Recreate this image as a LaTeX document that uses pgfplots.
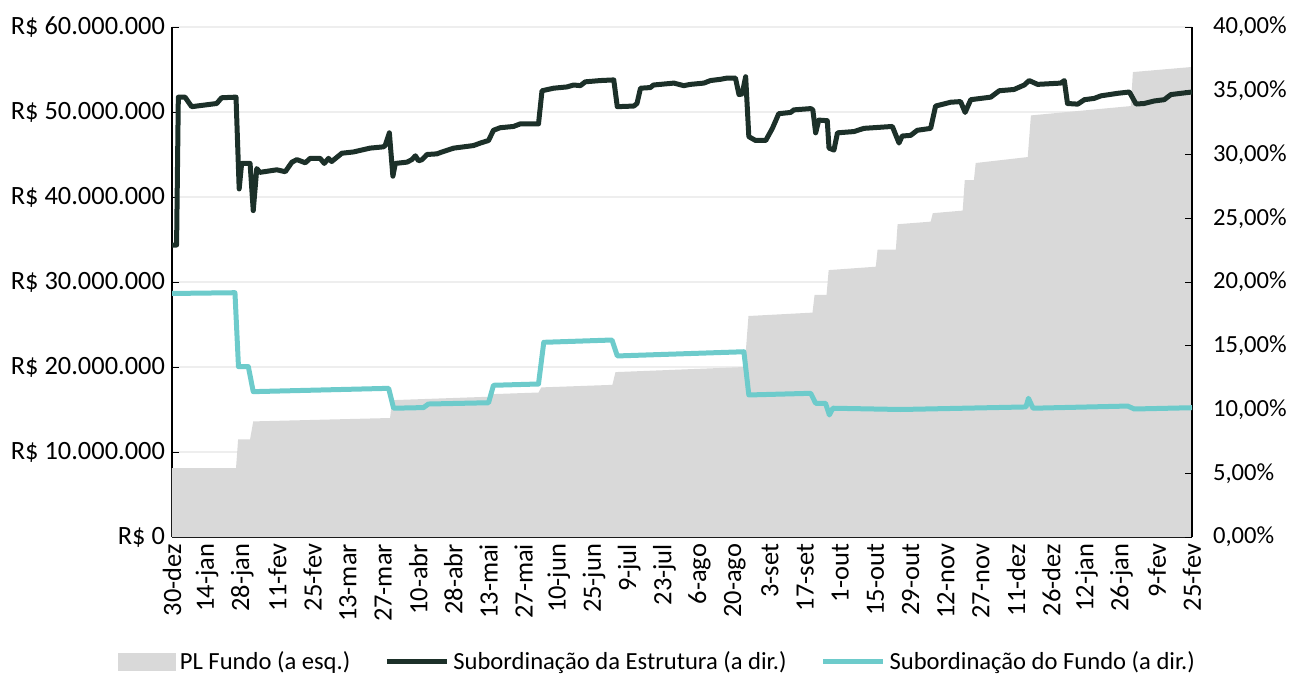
\documentclass[border=0pt]{standalone}
\usepackage{fontspec}
\setmainfont{Carlito}
\usepackage{pgfplots}
\pgfplotsset{compat=1.18}
\definecolor{plgray}{HTML}{D9D9D9}
\definecolor{estr}{HTML}{1C3029}
\definecolor{fundo}{HTML}{6DCBCB}
\definecolor{gridc}{HTML}{EEEEEE}
\begin{document}
\begin{tikzpicture}[font=\fontsize{12.3}{14}\selectfont]
\useasboundingbox (-86pt,-69pt) rectangle (559pt,268.5pt);
\begin{axis}[
 at={(0,0)}, anchor=south west,
 scale only axis, width=510pt, height=255pt,
 xmin=0, xmax=290, ymin=0, ymax=60,
 axis x line*=bottom, axis y line*=left,
 axis line style={-, black, line width=0.9pt},
 xtick={0,10,...,290},
 xticklabels={30-dez,14-jan,28-jan,11-fev,25-fev,13-mar,27-mar,10-abr,28-abr,13-mai,27-mai,10-jun,25-jun,9-jul,23-jul,6-ago,20-ago,3-set,17-set,1-out,15-out,29-out,12-nov,27-nov,11-dez,26-dez,12-jan,26-jan,9-fev,25-fev},
 xticklabel style={rotate=90, anchor=east, font=\fontsize{13.2}{15}\selectfont},
 yticklabel style={font=\fontsize{13.2}{15}\selectfont},
 minor x tick num=9,
 ytick={0,10,...,60},
 yticklabels={R\$ 0,R\$ 10.000.000,R\$ 20.000.000,R\$ 30.000.000,R\$ 40.000.000,R\$ 50.000.000,R\$ 60.000.000},
 ymajorgrids, grid style={gridc, line width=0.75pt},
 tick align=inside,
 major tick length=3.5pt, minor tick length=3.5pt,
 tick style={black, line width=0.4pt},
]
\addplot[fill=plgray, draw=none] coordinates {
(0,8.1) (18.2,8.1) (18.8,11.5) (22.2,11.5) (23.1,13.6) (62.0,14.0) (62.6,16.1) (89.9,16.5) (90.5,16.8) (104.2,17.0) (105.0,17.6) (125.2,17.9) (126.1,19.4) (162.8,20.0) (163.9,26.0) (182.1,26.4) (182.7,28.5) (186.1,28.5) (186.7,31.4) (200.1,31.8) (200.6,33.8) (205.8,33.8) (206.3,36.8) (215.7,37.1) (216.3,38.1) (224.8,38.4) (225.4,42.0) (228.0,42.0) (228.5,44.0) (243.3,44.7) (244.2,49.6) (272.6,50.7) (273.2,54.7) (290,55.3)
} \closedcycle;
\end{axis}
\begin{axis}[
 at={(0,0)}, anchor=south west,
 scale only axis, width=510pt, height=255pt,
 xmin=0, xmax=290, ymin=0, ymax=40,
 hide x axis, axis y line*=right,
 axis line style={-, black, line width=0.9pt},
 ytick={0,5,...,40},
 yticklabels={{0,00\%},{5,00\%},{10,00\%},{15,00\%},{20,00\%},{25,00\%},{30,00\%},{35,00\%},{40,00\%}},
 yticklabel style={xshift=7pt},
 tick align=inside, major tick length=3.5pt,
 tick style={black, line width=0.4pt},
 legend columns=3,
 legend style={draw=none, fill=none, at={(0.477,-0.245)}, anchor=center,
   /tikz/every even column/.append style={column sep=15pt}},
 legend cell align=left,
 legend image code/.code={\draw[#1] (0pt,0pt) -- (30pt,0pt);},
]
\addlegendimage{legend image code/.code={\fill[plgray] (0pt,-4.3pt) rectangle (28.5pt,4.3pt);}}
\addlegendentry{PL Fundo (a esq.)}
\addplot[estr, line width=2.5pt, line join=round] coordinates {
(0,22.9) (1.3,22.9) (1.8,34.5) (3.7,34.5) (5.6,33.75) (12.7,34.0) (14.1,34.45) (18.2,34.5) (19.1,27.3) (19.8,29.3) (22.2,29.3) (23.1,25.6) (24.1,28.9) (25.0,28.6) (29.8,28.8) (32.2,28.65) (34.1,29.4) (35.5,29.6) (37.9,29.35) (39.3,29.7) (42.1,29.7) (43.3,29.3) (44.5,29.7) (45.4,29.45) (48.3,30.1) (51.6,30.2) (56.3,30.5) (60.1,30.6) (60.6,30.7) (61.8,31.7) (62.8,28.3) (63.5,29.3) (66.8,29.4) (68.2,29.6) (69.2,29.9) (70.1,29.5) (71.1,29.6) (72.5,30.0) (75.3,30.05) (76.8,30.2) (80.1,30.5) (82.9,30.6) (85.7,30.7) (87.7,30.9) (90.0,31.1) (91.4,31.9) (93.3,32.1) (97.1,32.2) (99.0,32.4) (104.2,32.4) (105.2,35.0) (108.5,35.2) (112.3,35.3) (114.2,35.45) (116.1,35.4) (117.5,35.7) (121.8,35.8) (125.6,35.85) (126.6,33.75) (131.3,33.8) (132.2,34.0) (133.2,35.2) (136.0,35.25) (136.9,35.45) (142.7,35.6) (145.5,35.4) (147.4,35.5) (151.2,35.6) (153.1,35.8) (156.0,35.9) (157.9,36.0) (160.2,36.0) (161.2,34.7) (162.1,34.75) (163.1,36.1) (164.0,31.4) (165.9,31.1) (168.8,31.1) (170.7,32.05) (172.5,33.2) (175.9,33.3) (176.8,33.5) (181.6,33.6) (182.2,33.5) (183.0,31.7) (183.9,32.7) (186.3,32.65) (186.8,30.5) (188.2,30.35) (189.2,31.7) (193.9,31.8) (196.7,32.05) (204.8,32.2) (206.7,30.9) (207.6,31.45) (210.0,31.5) (211.9,31.9) (215.7,32.05) (217.1,33.8) (221.4,34.1) (224.2,34.15) (225.5,33.3) (227.1,34.3) (232.8,34.5) (235.2,35.0) (239.4,35.1) (242.3,35.45) (243.7,35.8) (246.1,35.5) (252.7,35.6) (253.7,35.8) (254.6,34.0) (257.5,33.95) (259.4,34.3) (262.2,34.4) (264.1,34.6) (268.9,34.8) (272.2,34.9) (274.1,33.96) (276.4,34.0) (279.3,34.2) (282.1,34.3) (284.0,34.7) (286.9,34.8) (290,34.9)
};
\addlegendentry{Subordinação da Estrutura (a dir.)}
\addplot[fundo, line width=2.5pt, line join=round] coordinates {
(0,19.1) (17.9,19.16) (18.9,13.36) (21.7,13.36) (23.1,11.4) (61.6,11.66) (63.0,10.1) (71.5,10.15) (72.9,10.43) (90.0,10.53) (91.4,11.9) (104.2,12.0) (105.7,15.27) (125.1,15.45) (126.6,14.2) (162.6,14.53) (164.0,11.14) (181.6,11.27) (183.0,10.49) (185.8,10.49) (186.9,9.57) (187.9,10.1) (207.2,10.0) (242.8,10.2) (243.5,10.88) (244.8,10.1) (271.7,10.27) (273.6,10.04) (290,10.14)
};
\addlegendentry{Subordinação do Fundo (a dir.)}
\end{axis}
\end{tikzpicture}
\end{document}
